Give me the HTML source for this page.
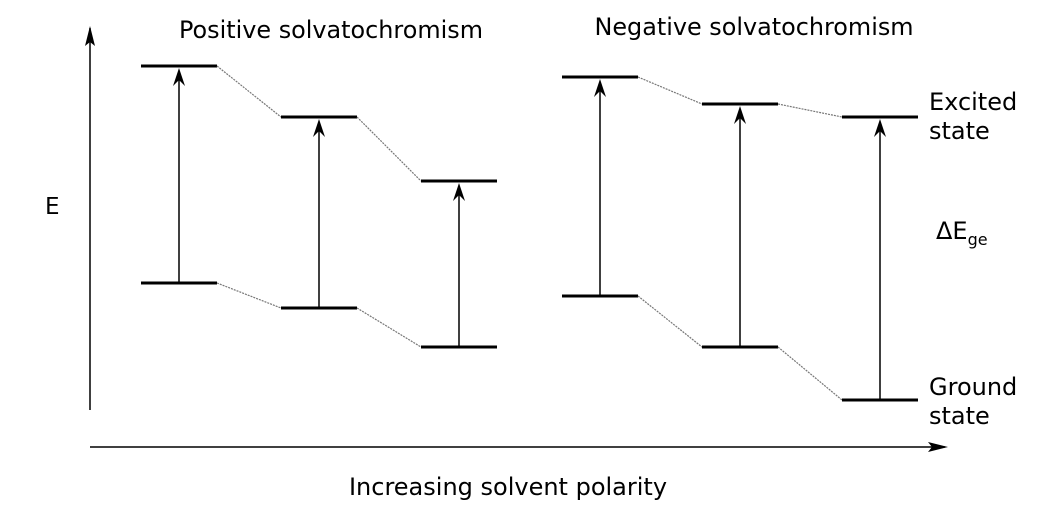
<!DOCTYPE html>
<html><head><meta charset="utf-8"><style>
body{margin:0;background:#fff}
svg{display:block;font-family:"DejaVu Sans","Liberation Sans",sans-serif}
</style></head><body>
<svg id="c" width="1052" height="507" viewBox="0 0 1052 507">
<line x1="90" y1="410" x2="90" y2="28" stroke="#000" stroke-width="1.5"/>
<path d="M90 26 L95 46 L90 42 L85 46 Z" fill="#000"/>
<line x1="90" y1="447" x2="945" y2="447" stroke="#000" stroke-width="1.5"/>
<path d="M948 447 L928 452 L932 447 L928 442 Z" fill="#000"/>
<text x="45" y="214" font-size="23">E</text>
<text x="508" y="495" font-size="24" text-anchor="middle">Increasing solvent polarity</text>
<text x="331" y="38" font-size="23.9" text-anchor="middle">Positive solvatochromism</text>
<text x="754" y="35" font-size="23.9" text-anchor="middle">Negative solvatochromism</text>
<text x="929" y="110" font-size="24">Excited</text>
<text x="929" y="139" font-size="24">state</text>
<text x="936" y="239" font-size="24">ΔE<tspan font-size="16" dy="6">ge</tspan></text>
<text x="929" y="395" font-size="24">Ground</text>
<text x="929" y="424" font-size="24">state</text>
<g id="marks"></g>
</svg>
<script>
const levelX = [141, 281, 421, 562, 702, 842];
const excitedY = [66, 117, 181, 77, 104, 117];
const groundY = [283, 308, 347, 296, 347, 400];
const groupOf = [0, 0, 0, 1, 1, 1];
const W = 76;
const ns = "http://www.w3.org/2000/svg";
const g = document.getElementById('marks');
function mk(tag, a) { const e = document.createElementNS(ns, tag); for (const k in a) e.setAttribute(k, a[k]); g.appendChild(e); return e; }
for (let i = 0; i < levelX.length; i++) {
  const x = levelX[i];
  let e = mk('line', {x1: x, x2: x + W, y1: excitedY[i], y2: excitedY[i], stroke: '#000', 'stroke-width': 3});
  
  
  e = mk('line', {x1: x, x2: x + W, y1: groundY[i], y2: groundY[i], stroke: '#000', 'stroke-width': 3});
  
  
  const cx = x + W / 2;
  const ty = excitedY[i] + 2;
  e = mk('line', {x1: cx, x2: cx, y1: groundY[i], y2: ty + 8, stroke: '#000', 'stroke-width': 1.5});
  
  
  e = mk('path', {d: `M${cx} ${ty} L${cx + 6} ${ty + 18} L${cx} ${ty + 12} L${cx - 6} ${ty + 18} Z`, fill: '#000'});
  
  
  if (i + 1 < levelX.length && groupOf[i + 1] === groupOf[i]) {
    const nx = levelX[i + 1];
    e = mk('line', {x1: x + W, x2: nx, y1: excitedY[i], y2: excitedY[i + 1], stroke: '#777', 'stroke-width': 1.2, 'stroke-dasharray': '2 1'});
    
    
    e = mk('line', {x1: x + W, x2: nx, y1: groundY[i], y2: groundY[i + 1], stroke: '#777', 'stroke-width': 1.2, 'stroke-dasharray': '2 1'});
    
    
  }
}
</script>
</body></html>
